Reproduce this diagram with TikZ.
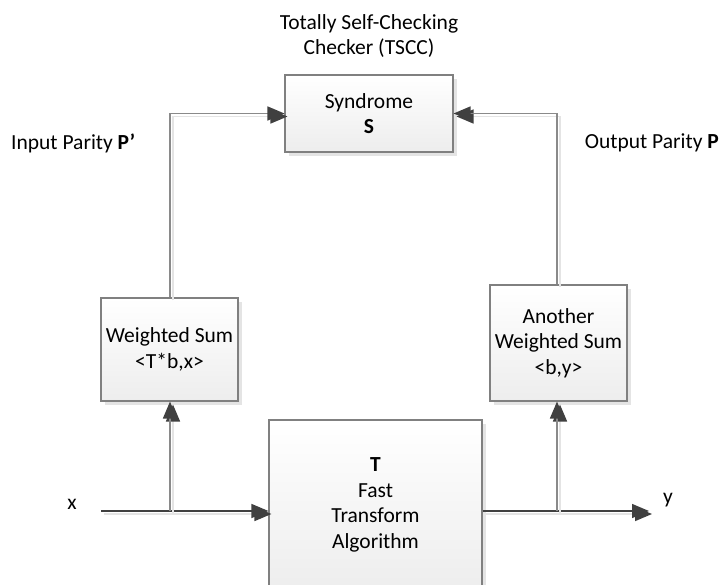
\documentclass[tikz,border=0pt]{standalone}
\usepackage{fontspec}
\setmainfont{Carlito}
\usetikzlibrary{arrows.meta,shadows,positioning}

\definecolor{boxborder}{HTML}{808080}
\definecolor{sigline}{HTML}{404040}
\definecolor{feedline}{HTML}{8A8A8A}
\definecolor{headfill}{HTML}{404040}
\definecolor{shadowgray}{HTML}{E4E4E4}

\tikzset{
  blk/.style={draw=boxborder, line width=1.1pt, rectangle, align=center,
    top color=white, bottom color=black!7, inner sep=0pt,
    font=\fontsize{21.5}{25.5}\selectfont,
    drop shadow={shadow xshift=4pt, shadow yshift=-4pt, fill=shadowgray, opacity=1}},
  lbl/.style={font=\fontsize{21.5}{25.5}\selectfont, inner sep=0pt, align=center},
  tip/.style={-{Triangle[length=17pt,width=14pt,color=headfill,fill=headfill]}},
  lineshadow/.style={preaction={draw=shadowgray, line width=1.6pt, transform canvas={shift={(3pt,-3pt)}}}},
  sig/.style={draw=sigline, line width=1.3pt, lineshadow},
  feed/.style={draw=feedline, line width=1.6pt, lineshadow},
}

\begin{document}
\begin{tikzpicture}[x=1pt,y=-1pt]
\useasboundingbox[fill=white] (0,0) rectangle (722,585);

% blocks
\node[blk, minimum width=168pt, minimum height=77pt] (syn) at (369,113.5) {Syndrome\\\textbf{S}};
\node[blk, minimum width=137pt, minimum height=103pt] (wsa) at (169.5,349.5) {Weighted Sum\\<T*b,x>};
\node[blk, minimum width=137pt, minimum height=116pt] (wsb) at (558.5,343) {Another\\Weighted Sum\\<b,y>};
\node[blk, minimum width=213pt, minimum height=170pt] (alg) at (375.5,505) {\textbf{T}\\Fast\\Transform\\Algorithm};

% labels
\node[lbl] (title) at (369,36) {Totally Self-Checking\\Checker (TSCC)};
\node[lbl, anchor=west] (pin) at (11,143) {Input Parity \textbf{P’}};
\node[lbl, anchor=east] (pout) at (719,143) {Output Parity \textbf{P}};
\node[lbl] (xl) at (72,504) {x};
\node[lbl] (yl) at (668,500) {y};

% signal path coordinates
\coordinate (xin) at (101,511);
\coordinate (yout) at (649,511);
\coordinate (bra) at (170,511);
\coordinate (brb) at (557,511);

% main signal path
\draw[sig, tip] (xin) -- (alg.west |- xin);
\draw[sig, tip] (alg.east |- yout) -- (yout);

% taps into the weighted sums
\draw[feed, tip] (bra) -- (bra |- wsa.south);
\draw[feed, tip] (brb) -- (brb |- wsb.south);

% parity lines into the syndrome checker
\draw[feed, tip] (bra |- wsa.north) |- (syn.west);
\draw[feed, tip] (brb |- wsb.north) |- (syn.east);
\end{tikzpicture}
\end{document}
